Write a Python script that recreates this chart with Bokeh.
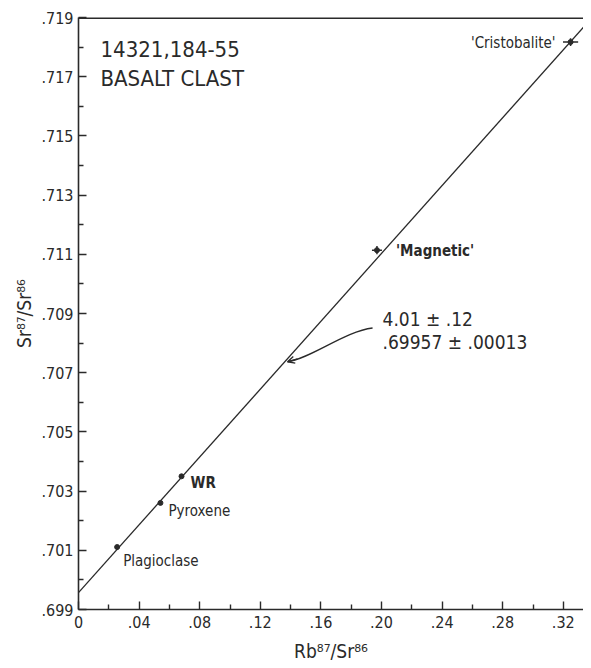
from bokeh.plotting import figure
from bokeh.models import FixedTicker, Span, Arrow, OpenHead, ColumnDataSource
from bokeh.embed import file_html
from bokeh.resources import INLINE
from bokeh.core.properties import value

FONT = "'Liberation Sans Narrow', 'DejaVu Sans Condensed', 'Liberation Sans', sans-serif"
INK = "#2a2a2a"

# ---- data ----
samples = ["Plagioclase", "Pyroxene", "WR", "'Magnetic'", "'Cristobalite'"]
rb87_sr86 = [0.0255, 0.0541, 0.068, 0.197, 0.3248]
sr87_sr86 = [0.70111, 0.7026, 0.7035, 0.71114, 0.71817]
rb_err = [0.0, 0.0, 0.0, 0.0033, 0.0050]
sr_err = [0.0, 0.0, 0.0, 0.00014, 0.00013]

slope = 0.0573          # isochron slope (4.01 b.y.)
intercept = 0.69957     # initial Sr87/Sr86

x_ticks = [0, 0.04, 0.08, 0.12, 0.16, 0.20, 0.24, 0.28, 0.32]
x_tick_labels = ["0", ".04", ".08", ".12", ".16", ".20", ".24", ".28", ".32"]
x_minor = [0.02, 0.06, 0.10, 0.14, 0.18, 0.22, 0.26, 0.30]
y_ticks = [0.699, 0.701, 0.703, 0.705, 0.707, 0.709, 0.711, 0.713, 0.715, 0.717, 0.719]
y_tick_labels = [".699", ".701", ".703", ".705", ".707", ".709", ".711", ".713", ".715", ".717", ".719"]
y_minor = [0.700, 0.702, 0.704, 0.706, 0.708, 0.710, 0.712, 0.714, 0.716, 0.718]

title_lines = ["14321,184-55", "BASALT CLAST"]
fit_lines = ["4.01 \u00b1  .12", ".69957 \u00b1 .00013"]

# ---- figure ----
p = figure(width=583, height=664, x_range=(0, 0.33333), y_range=(0.699, 0.719),
           output_backend="svg", toolbar_location=None,
           min_border_left=78, min_border_right=0, min_border_top=17, min_border_bottom=52)
p.outline_line_color = None
p.grid.visible = False
p.background_fill_color = "white"
p.border_fill_color = "white"

for ax in (p.xaxis[0], p.yaxis[0]):
    ax.axis_line_color = INK
    ax.axis_line_width = 1.6
    ax.major_tick_line_color = INK
    ax.minor_tick_line_color = INK
    ax.major_tick_line_width = 1.4
    ax.minor_tick_line_width = 1.4
    ax.major_tick_in = 8
    ax.major_tick_out = 0
    ax.minor_tick_in = 5
    ax.minor_tick_out = 0
    ax.major_label_text_font = FONT
    ax.major_label_text_font_size = "16px"
    ax.major_label_text_color = INK
    ax.axis_label_text_font = FONT
    ax.axis_label_text_font_size = "19px"
    ax.axis_label_text_font_style = "normal"
    ax.axis_label_text_color = INK

p.xaxis.ticker = FixedTicker(ticks=x_ticks, minor_ticks=x_minor)
p.xaxis.major_label_overrides = dict(zip(x_ticks, x_tick_labels))
p.yaxis.ticker = FixedTicker(ticks=y_ticks, minor_ticks=y_minor)
p.yaxis.major_label_overrides = dict(zip(y_ticks, y_tick_labels))
p.xaxis.major_label_standoff = 6
p.yaxis.major_label_standoff = 5
p.xaxis.axis_label = "Rb\u2078\u2077/Sr\u2078\u2076"
p.yaxis.axis_label = "Sr\u2078\u2077/Sr\u2078\u2076"
p.xaxis.axis_label_standoff = 9
p.yaxis.axis_label_standoff = 3

# top frame line
p.add_layout(Span(location=0.719, dimension="width", line_color=INK, line_width=3))

# isochron
x_end = (0.719 - intercept) / slope
p.line([0, x_end], [intercept, intercept + slope * x_end], line_color=INK, line_width=1.3)

src = ColumnDataSource(dict(x=rb87_sr86, y=sr87_sr86, xe=rb_err, ye=sr_err, name=samples))
# error bars
p.segment(x0=[x - e for x, e in zip(rb87_sr86, rb_err)], y0=sr87_sr86,
          x1=[x + e for x, e in zip(rb87_sr86, rb_err)], y1=sr87_sr86,
          line_color=INK, line_width=1.5)
p.segment(x0=rb87_sr86, y0=[y - e for y, e in zip(sr87_sr86, sr_err)],
          x1=rb87_sr86, y1=[y + e for y, e in zip(sr87_sr86, sr_err)],
          line_color=INK, line_width=1.5)
p.scatter("x", "y", source=src, size=5, color=INK)

# point labels
lab = ColumnDataSource(dict(
    x=rb87_sr86, y=sr87_sr86, text=samples,
    dx=[6, 8, 9, 19, -15], dy=[14, 8, 7, 1, 1],
    align=["left", "left", "left", "left", "right"],
    style=["normal", "normal", "bold", "bold", "normal"],
))
p.text(x="x", y="y", text="text", x_offset="dx", y_offset="dy", source=lab,
       text_align="align", text_baseline="middle", text_font=value(FONT),
       text_font_size="15px", text_font_style="style", text_color=INK)

# title block
p.text(x=[0.0145, 0.0145], y=[0.71792, 0.71695], text=title_lines,
       text_align="left", text_baseline="middle", text_font=value(FONT),
       text_font_size="22px", text_color=INK)

# fit result + pointer
p.text(x=[0.2007, 0.2007], y=[0.70881, 0.70804], text=fit_lines,
       text_align="left", text_baseline="middle", text_font=value(FONT),
       text_font_size="19px", text_color=INK)
p.bezier(x0=[0.1941], y0=[0.70851], x1=[0.1380], y1=[0.70737],
         cx0=[0.1762], cy0=[0.70841], cx1=[0.1531], cy1=[0.70747],
         line_color=INK, line_width=1.3)
p.add_layout(Arrow(x_start=0.1446, y_start=0.70747, x_end=0.1380, y_end=0.70737,
                   line_color=INK, line_width=1.3,
                   end=OpenHead(size=7, line_color=INK, line_width=1.3)))

open("out.html", "w").write(file_html(p, INLINE))
